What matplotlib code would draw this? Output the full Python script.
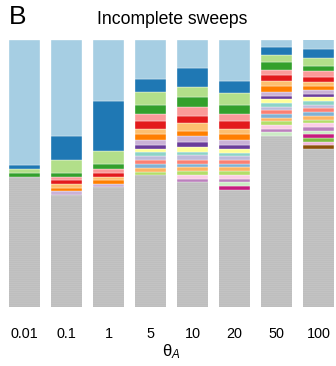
# stacked haplotype frequencies, incomplete sweeps
import numpy as np
import matplotlib.pyplot as plt

plt.rcParams['font.family'] = ['Liberation Sans', 'DejaVu Sans']
plt.rcParams['hatch.linewidth'] = 0.35
plt.rcParams['mathtext.fontset'] = 'custom'
plt.rcParams['mathtext.it'] = 'Liberation Sans:italic'
plt.rcParams['mathtext.rm'] = 'Liberation Sans'

thetas = ['0.01', '0.1', '1', '5', '10', '20', '50', '100']

# haplotype colours, from the most frequent (top of bar) downward
hap_colors = ['#a6cee3', '#1f78b4', '#b2df8a', '#33a02c', '#fb9a99', '#e31a1c',
              '#fdbf6f', '#ff7f00', '#cab2d6', '#6a3d9a', '#ffff99', '#8dd3c7',
              '#bebada', '#fb8072', '#80b1d3', '#fdb462', '#b3de69', '#fccde5',
              '#bc80bd', '#ccebc5', '#c51b7d', '#7fbc41', '#f1b6da', '#8c510a']
gray_color = '#bebebe'

# frequencies (%) of the named haplotypes, top to bottom
freq_001 = [47.0, 1.5, 1.4, 1.5]
freq_01 = [36.1, 9.0, 4.8, 1.5, 1.35, 1.4, 1.4, 1.35, 1.5]
freq_1 = [23.0, 18.6, 4.9, 2.1, 1.3, 1.5, 1.1, 1.5, 1.35]
freq_5 = [14.8, 4.8, 4.9, 3.5, 2.6, 2.9, 2.0, 2.25, 2.0, 1.4, 1.25, 1.4,
          1.4, 1.5, 1.35, 1.5, 1.4]
freq_10 = [10.6, 7.1, 4.0, 3.5, 3.5, 2.7, 2.8, 2.0, 2.1, 1.9, 2.0, 1.1,
           1.75, 1.5, 1.35, 1.5, 1.4, 1.4, 1.25]
freq_20 = [15.4, 4.7, 4.4, 3.4, 2.6, 2.9, 2.1, 2.1, 2.0, 1.4, 1.4, 1.25,
           1.5, 1.4, 1.35, 1.5, 1.4, 1.4, 1.35, 1.25, 1.4]
freq_50 = [2.9, 2.9, 2.7, 2.8, 2.1, 2.0, 2.0, 2.1, 1.5, 1.35, 1.4, 1.4,
           1.35, 1.4, 1.4, 1.35, 1.4, 1.4, 1.35, 1.4]
freq_100 = [3.6, 3.4, 2.9, 2.1, 2.1, 2.0, 1.4, 1.5, 1.4, 1.35, 1.4, 1.4,
            1.35, 1.4, 1.4, 1.35, 1.4, 1.4, 1.35, 1.4, 1.4, 1.35, 1.4, 1.5]
# all the rare haplotypes lumped together (grey)
freq_rare = [48.6, 41.6, 44.6, 49.25, 46.6, 43.8, 63.9, 59.0]

freqs = [freq_001, freq_01, freq_1, freq_5, freq_10, freq_20, freq_50, freq_100]

fig = plt.figure(figsize=(3.36, 3.66), dpi=100)
ax = fig.add_axes([3.5/336, 59.5/366, 336/336, 267/366])

x = np.arange(len(thetas))
w = 0.74
for i, f in enumerate(freqs):
    tot = sum(f) + freq_rare[i]
    rare = freq_rare[i] / tot * 100
    ax.bar(x[i], rare, w, bottom=0, color=gray_color, edgecolor='#c9c9c9',
           linewidth=0, hatch='--------')
    bottom = rare
    # stack from the bottom, i.e. the least frequent named haplotype first
    for k in range(len(f) - 1, -1, -1):
        h = f[k] / tot * 100
        ax.bar(x[i], h, w, bottom=bottom, color=hap_colors[k],
               edgecolor='white', linewidth=0.25)
        bottom += h

ax.set_xlim(-0.5, 7.5)
ax.set_ylim(0, 100)
ax.set_xticks(x)
ax.set_xticklabels(thetas, fontsize=10.4)
ax.tick_params(axis='x', length=0, pad=15)
ax.set_yticks([])
for s in ax.spines.values():
    s.set_visible(False)
ax.set_xlabel('θ$_A$', fontsize=12, labelpad=1)

fig.text(172/336, 1 - 20/366, 'Incomplete sweeps', ha='center', va='center',
         fontsize=12.7)
fig.text(9/336, 1 - 17/366, 'B', ha='left', va='center', fontsize=19)

plt.savefig('out.png', dpi=100)
